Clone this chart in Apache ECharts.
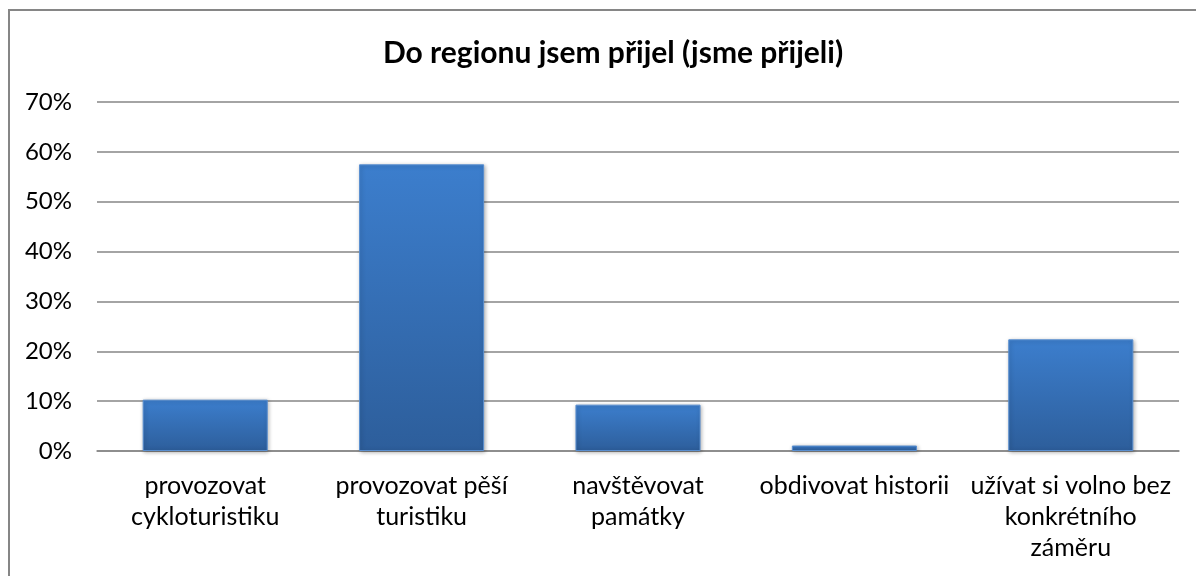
<!DOCTYPE html>
<html>
<head>
<meta charset="utf-8">
<script src="https://cdn.jsdelivr.net/npm/echarts@6/dist/echarts.min.js"></script>
<style>
  html, body { margin: 0; padding: 0; background: #fff; }
  #chart { width: 1196px; height: 576px; }
</style>
</head>
<body>
<div id="chart"></div>
<script>
const titleText = 'Do regionu jsem přijel (jsme přijeli)'
const categories = [
  'provozovat\ncykloturistiku',
  'provozovat pěší\nturistiku',
  'navštěvovat\npamátky',
  'obdivovat historii',
  'užívat si volno bez\nkonkrétního\nzáměru'
]
const values = [0.103, 0.575, 0.093, 0.011, 0.224]
const yTicks = [0, 0.1, 0.2, 0.3, 0.4, 0.5, 0.6, 0.7]

const myChart = echarts.init(document.getElementById('chart'))
const font = 'Lato, "Open Sans", sans-serif'

myChart.setOption({
  animation: false,
  title: {
    text: titleText,
    left: 608,
    top: 33,
    textAlign: 'center',
    textStyle: {
      fontFamily: font,
      fontWeight: 'bold',
      fontSize: 30,
      color: '#000'
    }
  },
  graphic: [{
    type: 'rect',
    shape: {x: 9, y: 10, width: 1300, height: 700},
    style: {fill: 'none', stroke: '#868686', lineWidth: 2},
    silent: true
  }],
  grid: {
    left: 97,
    right: 17,
    top: 102,
    bottom: 125
  },
  xAxis: {
    type: 'category',
    data: categories,
    axisLine: {lineStyle: {color: '#868686', width: 1.5}},
    axisTick: {show: false},
    axisLabel: {
      color: '#000',
      fontFamily: font,
      fontSize: 25,
      lineHeight: 31,
      margin: 19,
      interval: 0
    }
  },
  yAxis: {
    type: 'value',
    min: yTicks[0],
    max: yTicks[yTicks.length - 1],
    interval: 0.1,
    axisLine: {show: false},
    axisTick: {show: false},
    axisLabel: {
      color: '#000',
      fontFamily: font,
      fontSize: 24,
      margin: 25,
      formatter: (v) => Math.round(v * 100) + '%'
    },
    splitLine: {lineStyle: {color: '#868686', width: 1.5}}
  },
  series: [{
    type: 'bar',
    data: values,
    barWidth: '57.8%',
    itemStyle: {
      color: new echarts.graphic.LinearGradient(0, 0, 0, 1, [
        {offset: 0, color: '#3c7ecd'},
        {offset: 1, color: '#2d5e9b'}
      ]),
      borderColor: '#5a8fd0',
      borderWidth: 1,
      shadowColor: 'rgba(0,0,0,0.3)',
      shadowBlur: 4,
      shadowOffsetX: 1,
      shadowOffsetY: 1
    }
  }]
})
</script>
</body>
</html>
